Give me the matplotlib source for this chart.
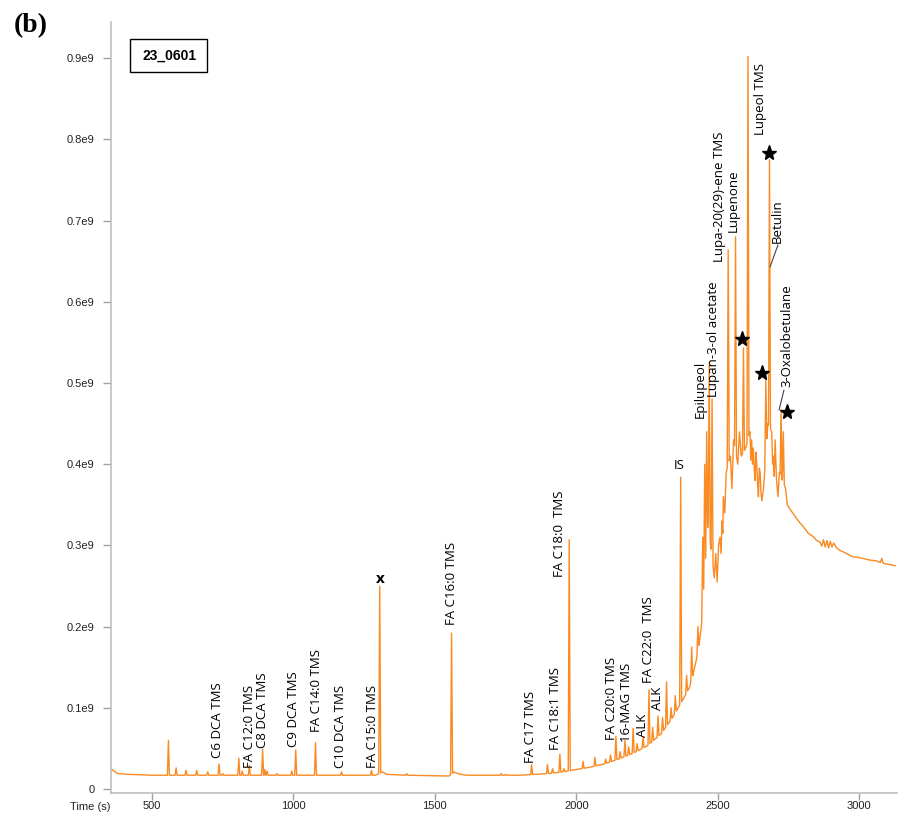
import numpy as np
import matplotlib.pyplot as plt
from matplotlib.patches import Rectangle

# intensity in units of 1e9, time in seconds
base_time = [355, 365, 380, 420, 500, 700, 900, 1100, 1290, 1315, 1330, 1400,
             1550, 1568, 1580, 1610, 1700, 1800, 1850, 1900, 1950, 2000, 2050,
             2100, 2150, 2200, 2250, 2300, 2340, 2380, 2400, 2412, 2425, 2435,
             2442, 2466, 2475, 2488, 2493, 2498, 2503, 2508, 2512, 2515, 2518,
             2520, 2525, 2530, 2545, 2550, 2556, 2571, 2577, 2583, 2599, 2614,
             2617, 2620, 2623, 2626, 2629, 2632, 2635, 2638, 2641, 2644, 2647,
             2650, 2653, 2656, 2662, 2677, 2691, 2694, 2697, 2700, 2703, 2708,
             2713, 2718, 2740, 2746, 2755, 2765, 2775, 2790, 2805, 2820, 2837,
             2850, 2862, 2868, 2874, 2880, 2886, 2892, 2898, 2904, 2910, 2920,
             2931, 2950, 2977, 3000, 3037, 3060, 3075, 3080, 3085, 3100, 3114,
             3127]
base_level = [0.025, 0.022, 0.019, 0.018, 0.017, 0.017, 0.017, 0.017, 0.017,
              0.021, 0.018, 0.017, 0.016, 0.021, 0.019, 0.017, 0.017, 0.017,
              0.018, 0.019, 0.021, 0.024, 0.027, 0.031, 0.037, 0.044, 0.053,
              0.068, 0.088, 0.112, 0.125, 0.140, 0.160, 0.180, 0.200, 0.330,
              0.300, 0.260, 0.290, 0.255, 0.300, 0.310, 0.290, 0.330, 0.315,
              0.360, 0.340, 0.390, 0.410, 0.370, 0.430, 0.400, 0.440, 0.410,
              0.420, 0.440, 0.405, 0.430, 0.400, 0.420, 0.395, 0.380, 0.415,
              0.400, 0.375, 0.360, 0.395, 0.390, 0.365, 0.355, 0.370, 0.450,
              0.440, 0.400, 0.410, 0.385, 0.430, 0.380, 0.360, 0.390, 0.370,
              0.350, 0.345, 0.340, 0.335, 0.328, 0.322, 0.315, 0.311, 0.306,
              0.304, 0.299, 0.307, 0.298, 0.306, 0.297, 0.305, 0.298, 0.303,
              0.297, 0.294, 0.291, 0.286, 0.285, 0.282, 0.281, 0.279, 0.284,
              0.278, 0.277, 0.276, 0.275]

peak_time = [558, 585, 620, 658, 697, 737, 750, 807, 819, 844, 891, 899, 907,
             941, 994, 1008, 1078, 1170, 1276, 1305, 1400, 1559, 1735, 1750,
             1842, 1898, 1916, 1942, 1956, 1975, 2024, 2066, 2104, 2121, 2140,
             2155, 2172, 2185, 2201, 2215, 2236, 2257, 2270, 2289, 2305, 2319,
             2335, 2350, 2369, 2390, 2408, 2430, 2447, 2454, 2461, 2470, 2480,
             2537, 2563, 2591, 2607, 2670, 2683, 2724, 2732]
peak_height = [0.060, 0.026, 0.023, 0.023, 0.021, 0.031, 0.019, 0.038, 0.022,
               0.029, 0.049, 0.024, 0.022, 0.019, 0.022, 0.048, 0.057, 0.021,
               0.023, 0.250, 0.019, 0.192, 0.019, 0.018, 0.030, 0.030, 0.025,
               0.043, 0.025, 0.307, 0.034, 0.039, 0.037, 0.042, 0.065, 0.046,
               0.060, 0.052, 0.075, 0.056, 0.064, 0.122, 0.076, 0.090, 0.088,
               0.132, 0.100, 0.115, 0.384, 0.140, 0.175, 0.200, 0.310, 0.400,
               0.440, 0.525, 0.480, 0.664, 0.680, 0.543, 0.902, 0.504, 0.775,
               0.467, 0.440]

label_text = ["C6 DCA TMS", "FA C12:0 TMS", "C8 DCA TMS", "C9 DCA TMS",
              "FA C14:0 TMS", "C10 DCA TMS", "FA C15:0 TMS", "FA C16:0 TMS",
              "FA C17 TMS", "FA C18:1 TMS", "FA C18:0  TMS", "FA C20:0 TMS",
              "16-MAG TMS", "ALK", "FA C22:0  TMS", "ALK", "Epilupeol",
              "Lupan-3-ol acetate", "Lupa-20(29)-ene TMS", "Lupenone",
              "Lupeol TMS", "Betulin", "3-Oxalobetulane"]
label_time = [733, 846, 892, 999, 1080, 1168, 1278, 1560, 1837, 1927, 1939,
              2125, 2178, 2233, 2254, 2288, 2438, 2484, 2508, 2554, 2650, 2710,
              2745]
label_level = [0.038, 0.026, 0.050, 0.052, 0.070, 0.026, 0.026, 0.202, 0.032,
               0.048, 0.261, 0.060, 0.058, 0.064, 0.130, 0.097, 0.457, 0.483,
               0.649, 0.686, 0.805, 0.672, 0.495]

star_time = [2585, 2656, 2682, 2744]
star_level = [0.554, 0.512, 0.783, 0.464]

y_ticks = [0, 0.1, 0.2, 0.3, 0.4, 0.5, 0.6, 0.7, 0.8, 0.9]
y_tick_labels = ["0", "0.1e9", "0.2e9", "0.3e9", "0.4e9", "0.5e9", "0.6e9",
                 "0.7e9", "0.8e9", "0.9e9"]
x_ticks = [500, 1000, 1500, 2000, 2500, 3000]

# build the trace: background knots plus a narrow triangle for every peak
half = 3.5
bt = np.array(base_time, dtype=float)
bl = np.array(base_level)
pt = np.array(peak_time, dtype=float)
keep = np.array([np.all(np.abs(t - pt) > half) for t in bt])
ts = list(bt[keep])
ys = list(bl[keep])
for t, h in zip(peak_time, peak_height):
    feet = np.interp([t - half, t + half], bt, bl)
    ts += [t - half, t, t + half]
    ys += [feet[0], h, feet[1]]
order = np.argsort(ts, kind="stable")
trace_t = np.array(ts)[order]
trace_y = np.array(ys)[order]

fig = plt.figure(figsize=(9.04, 8.15), dpi=100)
ax = fig.add_axes([0.1228, 0.027, 0.8695, 0.946])
ax.plot(trace_t, trace_y, color="#fa8a22", lw=1.0)

ax.set_xlim(355, 3134)
ax.set_ylim(-0.0049, 0.9446)
ax.set_xticks(x_ticks)
ax.set_xticklabels([str(v) for v in x_ticks])
ax.set_yticks(y_ticks)
ax.set_yticklabels(y_tick_labels)
ax.tick_params(axis="both", colors="#a0a0a0", labelcolor="#222222",
               labelsize=8, width=1)
ax.tick_params(axis="y", length=6, pad=6)
ax.tick_params(axis="x", length=5, pad=1)
for lab in ax.get_xticklabels() + ax.get_yticklabels():
    lab.set_family("Liberation Sans")
for side in ["top", "right"]:
    ax.spines[side].set_visible(False)
for side in ["left", "bottom"]:
    ax.spines[side].set_color("#bfbfbf")
    ax.spines[side].set_linewidth(1.2)

for s, t, y in zip(label_text, label_time, label_level):
    ax.text(t, y, s, rotation=90, ha="center", va="bottom",
            fontsize=9.5, family="Open Sans")
ax.text(2363, 0.39, "IS", ha="center", va="bottom", fontsize=9.5,
        family="Open Sans")
ax.text(1308, 0.259, "x", ha="center", va="center", fontsize=11,
        fontweight="bold", family="Open Sans")

ax.plot(star_time, star_level, ls="none", marker="*", ms=11, color="black")

# leader lines
ax.plot([2713, 2685], [0.670, 0.643], color="#444444", lw=0.8)
ax.plot([2734, 2717], [0.491, 0.467], color="#444444", lw=0.8)

fig.text(0.1217, 0.0098, "Time (s)", ha="right", va="center", fontsize=8,
         family="Liberation Sans", color="#222222")
fig.patches.append(Rectangle((0.1438, 0.9117), 0.0852, 0.0405,
                             transform=fig.transFigure, fill=False,
                             edgecolor="black", lw=1))
fig.text(0.1874, 0.932, "23_0601", ha="center", va="center", fontsize=10,
         fontweight="bold", family="Liberation Sans")
fig.text(0.0343, 0.969, "(b)", ha="center", va="center", fontsize=20,
         fontweight="bold", family="Liberation Serif")

fig.savefig("out.png", dpi=100)
